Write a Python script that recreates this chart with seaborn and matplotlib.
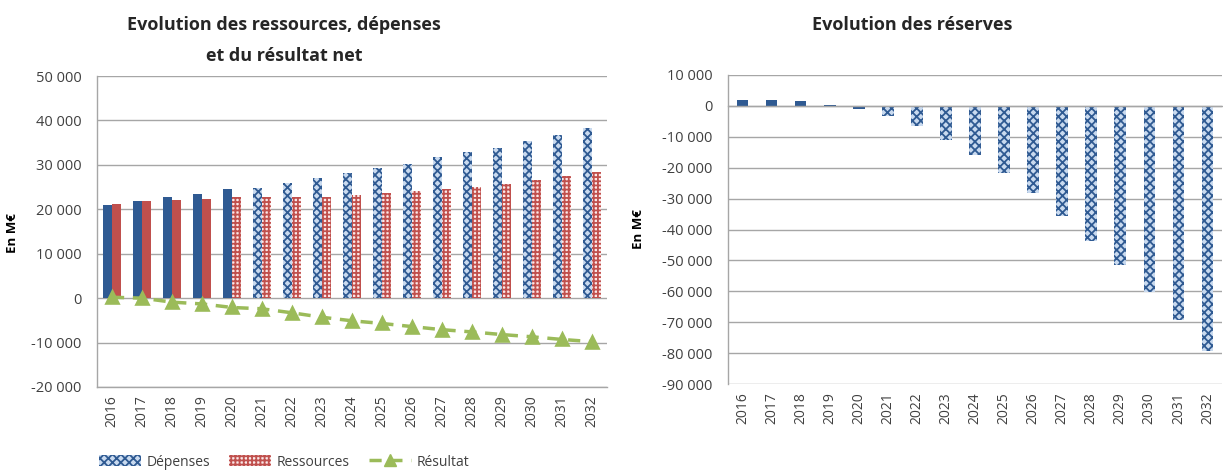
import numpy as np
import pandas as pd
import matplotlib.pyplot as plt
import seaborn as sns
from matplotlib.patches import Patch
from matplotlib.lines import Line2D
from matplotlib.ticker import FuncFormatter

# Données (M€)
years = [str(y) for y in range(2016, 2033)]
depenses = [21000, 21800, 22700, 23500, 24600, 24800, 26000, 27100, 28200,
            29200, 30300, 31700, 32800, 33900, 35300, 36700, 38200]
ressources = [21200, 21800, 22100, 22400, 22700, 22700, 22700, 22700, 23200,
              23600, 24100, 24500, 25100, 25700, 26600, 27600, 28400]
resultat = [200, 0, -900, -1300, -2100, -2400, -3300, -4300, -5100,
            -5700, -6400, -7100, -7600, -8200, -8700, -9300, -9800]
reserves = [2000, 2000, 1700, 400, -900, -3300, -6500, -10900, -15900,
            -21600, -28300, -35500, -43800, -51500, -60100, -69300, -79200]

sns.set_theme(style="white")
plt.rcParams['font.family'] = ['Open Sans', 'DejaVu Sans']
plt.rcParams['hatch.linewidth'] = 1.3

BLUE = '#2F5A92'
LIGHTBLUE = '#C9DAEF'
RED = '#C0504D'
LIGHTRED = '#FBE9E9'
GREEN = '#9BBB59'
GRID = '#A6A6A6'
TXT = '#404040'

fig = plt.figure(figsize=(12.23, 4.72), dpi=100)
ax1 = fig.add_axes([97/1223, 1-387/472, 510/1223, 311/472])
ax2 = fig.add_axes([728/1223, 1-384/472, 494/1223, 309/472])

fmt = FuncFormatter(lambda v, p: f"{v:,.0f}".replace(",", " "))

# --- Graphique de gauche : ressources, dépenses, résultat ---
df = pd.DataFrame({
    'Année': years * 2,
    'Série': ['Dépenses'] * len(years) + ['Ressources'] * len(years),
    'Valeur': depenses + ressources,
})
sns.barplot(data=df, x='Année', y='Valeur', hue='Série',
            hue_order=['Dépenses', 'Ressources'], palette=[BLUE, RED],
            width=0.6, saturation=1, legend=False, linewidth=0, ax=ax1)

# projections hachurées
for i, bar in enumerate(ax1.containers[0]):
    if i >= 5:
        bar.set_facecolor(LIGHTBLUE)
        bar.set_edgecolor(BLUE)
        bar.set_hatch('xxxx')
        bar.set_linewidth(0)
for i, bar in enumerate(ax1.containers[1]):
    if i >= 4:
        bar.set_facecolor(LIGHTRED)
        bar.set_edgecolor(RED)
        bar.set_hatch('++++')
        bar.set_linewidth(0)

sns.pointplot(x=years, y=resultat, color=GREEN, marker='^', markersize=9,
              linestyle='--', linewidth=2.5, errorbar=None, ax=ax1)
for line in ax1.lines:
    line.set_dashes([3.5, 2.5])

ax1.set_xlim(-0.5, len(years) - 0.5)
ax1.set_ylim(-20000, 50000)
ax1.set_yticks(range(-20000, 50001, 10000))

# --- Graphique de droite : réserves ---
sns.barplot(x=years, y=reserves, color=BLUE, width=0.4, saturation=1,
            linewidth=0, ax=ax2)
for i, bar in enumerate(ax2.containers[0]):
    if i >= 5:
        bar.set_facecolor(LIGHTBLUE)
        bar.set_edgecolor(BLUE)
        bar.set_hatch('xxxx')
        bar.set_linewidth(0)

ax2.set_xlim(-0.5, len(years) - 0.5)
ax2.set_ylim(-90000, 10000)
ax2.set_yticks(range(-90000, 10001, 10000))
ax2.spines['bottom'].set_position(('data', 0))
ax2.set_xticks(np.arange(-0.5, len(years), 1), minor=True)
ax2.tick_params(axis='x', which='minor', length=4, width=1, color=GRID,
                direction='out')

for ax in (ax1, ax2):
    ax.set_axisbelow(True)
    ax.yaxis.set_major_formatter(fmt)
    ax.grid(axis='y', color=GRID, linewidth=1)
    ax.grid(axis='x', visible=False)
    for s in ('top', 'right'):
        ax.spines[s].set_visible(False)
    for s in ('left', 'bottom'):
        ax.spines[s].set_color(GRID)
        ax.spines[s].set_linewidth(1)
    ax.tick_params(axis='y', length=5, width=1, color=GRID, direction='out',
                   labelsize=10.5, labelcolor=TXT, pad=6)
    ax.tick_params(axis='x', which='major', length=0, labelsize=10,
                   labelcolor=TXT, labelrotation=90, pad=6)
    ax.set_xlabel('')
    ax.set_ylabel('En M€', fontsize=9.5, fontweight='bold', color='black')

ax2.tick_params(axis='x', which='major', pad=206)
ax1.yaxis.set_label_coords(-0.153, 0.495)
ax2.yaxis.set_label_coords(-0.168, 0.5)

# Titres
fig.text(284/1223, 1-25/472, "Evolution des ressources, dépenses",
         ha='center', va='center', fontsize=13, fontweight='bold')
fig.text(284/1223, 1-56/472, "et du résultat net",
         ha='center', va='center', fontsize=13, fontweight='bold')
fig.text(912/1223, 1-25/472, "Evolution des réserves",
         ha='center', va='center', fontsize=13, fontweight='bold')

# Légende
handles = [
    Patch(facecolor=LIGHTBLUE, edgecolor=BLUE, hatch='xxxx', linewidth=0,
          label='Dépenses'),
    Patch(facecolor=LIGHTRED, edgecolor=RED, hatch='++++', linewidth=0,
          label='Ressources'),
    Line2D([], [], color=GREEN, linewidth=2.5, linestyle=(0, (3.5, 2.5)),
           marker='^', markersize=9, label='Résultat'),
]
fig.legend(handles=handles, loc='center', bbox_to_anchor=(284/1223, 1-462/472),
           ncol=3, frameon=False, fontsize=10, handlelength=3.0,
           handleheight=0.9, columnspacing=1.4, handletextpad=0.4,
           labelcolor=TXT)

fig.savefig('out.png', dpi=100)
